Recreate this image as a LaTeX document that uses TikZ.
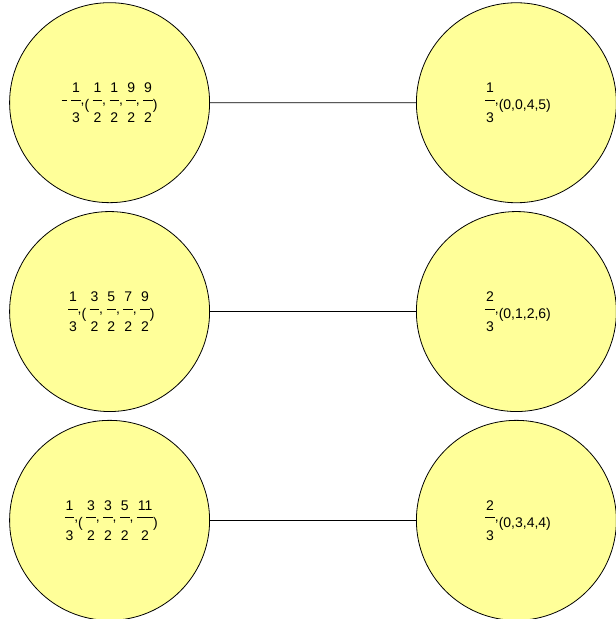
\documentclass[tikz,border=0pt]{standalone}
\usepackage{fontspec}
\setmainfont{Liberation Sans}
\usepackage{tikz}
\usetikzlibrary{matrix,positioning}

\definecolor{stateyellow}{RGB}{255,255,153}
\newlength{\frcw}
% stacked fraction: numerator, bar, denominator
\newcommand{\frc}[2]{\hspace{3.5pt}%
  \setbox0=\hbox{#1}\setbox2=\hbox{#2}%
  \frcw=\wd0 \ifdim\wd2>\frcw \frcw=\wd2 \fi
  \advance\frcw by 1.7pt
  \rlap{\hbox to\frcw{\hss\raise17.3pt\box0\hss}}%
  \rlap{\hbox to\frcw{\hss\lower12.7pt\box2\hss}}%
  \rule[9.2pt]{\frcw}{0.8pt}}
\newcommand{\fcm}{\raisebox{5.5pt}{,}}
\newcommand{\mns}{\rule[9.2pt]{5pt}{0.8pt}\hspace{1pt}}

\begin{document}
\begin{tikzpicture}[x=1pt,y=1pt,line width=0.8pt,
  state/.style={circle,draw,fill=stateyellow,minimum size=200pt,inner sep=0pt,
  font=\fontsize{14}{17}\selectfont}]
\useasboundingbox (0,0) rectangle (616,-619);

\matrix (m) at (313,-311.5) [matrix of nodes,
nodes={state},
row sep=8pt, column sep=206pt]{
\mns\frc13\fcm(\frc12\fcm\frc12\fcm\frc92\fcm\frc92) & \frc13\fcm(0,0,4,5) \\
\frc13\fcm(\frc32\fcm\frc52\fcm\frc72\fcm\frc92) & \frc23\fcm(0,1,2,6) \\
\frc13\fcm(\frc32\fcm\frc32\fcm\frc52\fcm\frc{11}2) & \frc23\fcm(0,3,4,4) \\
};

% each left weight joined to its partner on the right
\path
(m-1-1) edge (m-1-2)
(m-2-1) edge (m-2-2)
(m-3-1) edge (m-3-2);
\end{tikzpicture}
\end{document}
